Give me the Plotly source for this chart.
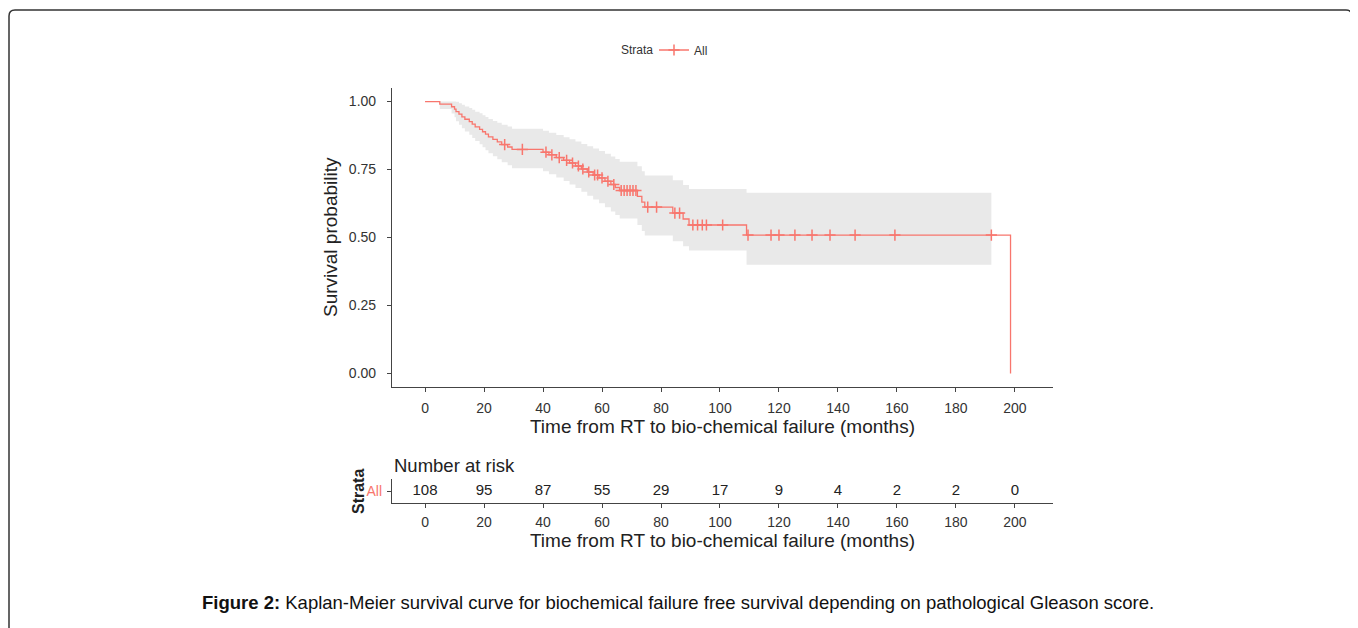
import numpy as np
import plotly.graph_objects as go

# ---------------- data ----------------
event_times = [0, 5, 9, 10, 10.5, 11.5, 12.5, 13.5, 15, 16, 17, 18.5, 19.5, 20.5, 21.5, 23, 24.5, 26,
               28, 29.5, 40, 42, 44.5, 47, 49, 51, 53, 55, 57, 59, 61, 63, 64.5, 66,
               72, 73.5, 74.5, 84, 87.5, 89.5, 109, 198.5]
surv = [1.0, 0.991, 0.981, 0.972, 0.963, 0.954, 0.944, 0.935, 0.926, 0.917, 0.907, 0.898, 0.889, 0.880,
        0.870, 0.861, 0.852, 0.842, 0.833, 0.824, 0.814, 0.804, 0.794, 0.784, 0.774, 0.763, 0.752,
        0.741, 0.730, 0.719, 0.707, 0.695, 0.684, 0.673, 0.651, 0.630, 0.612, 0.590, 0.568, 0.546,
        0.509, 0.0]
ci_upper = [1.0, 1.0, 1.0, 1.0, 0.999, 0.994, 0.988, 0.982, 0.976, 0.970, 0.963, 0.957, 0.950, 0.943,
            0.936, 0.929, 0.922, 0.915, 0.908, 0.900, 0.893, 0.885, 0.877, 0.869, 0.861, 0.853, 0.844,
            0.836, 0.827, 0.818, 0.808, 0.798, 0.789, 0.779, 0.762, 0.744, 0.728, 0.711, 0.693, 0.678,
            0.665]
ci_lower = [1.0, 0.973, 0.956, 0.942, 0.928, 0.915, 0.902, 0.890, 0.878, 0.866, 0.855, 0.843, 0.832,
            0.821, 0.810, 0.799, 0.788, 0.777, 0.766, 0.755, 0.744, 0.733, 0.721, 0.708, 0.695, 0.682,
            0.668, 0.654, 0.640, 0.626, 0.611, 0.596, 0.583, 0.570, 0.546, 0.524, 0.507, 0.486, 0.468,
            0.452, 0.400]
censor_times = [27, 33, 41, 43, 45.5, 48, 50, 52, 53.5, 55.5, 57.5, 58.5, 60, 62, 64, 66.5, 67.5,
                68.5, 69.5, 70.5, 71.5, 75.5, 78.5, 84.7, 86.3, 90.8, 92.4, 94, 95.4, 100.9,
                109.5, 117.3, 120, 125.4, 131.2, 137.3, 145.8, 159.3, 192]
risk_times = [0, 20, 40, 60, 80, 100, 120, 140, 160, 180, 200]
risk_counts = [108, 95, 87, 55, 29, 17, 9, 4, 2, 2, 0]
strata = ["All"]

RED = "#F8766D"
FONT = "Arial, Liberation Sans, sans-serif"
W, H = 1358, 628
OFF = 8  # default page body margin

def px_x(p):
    return (p - OFF) / W

def px_y(p):
    return 1 - (p - OFF) / H

# censor y positions from the step function
et = np.array(event_times)
sv = np.array(surv)
censor_surv = [float(sv[np.searchsorted(et, c, side="right") - 1]) for c in censor_times]

# band extends to last censoring time
band_t = event_times[:-1] + [censor_times[-1]]
band_up = ci_upper + [ci_upper[-1]]
band_lo = ci_lower + [ci_lower[-1]]

fig = go.Figure()

fig.add_trace(go.Scatter(x=band_t, y=band_lo, mode="lines", line=dict(width=0, shape="hv"),
                         showlegend=False, hoverinfo="skip"))
fig.add_trace(go.Scatter(x=band_t, y=band_up, mode="lines", line=dict(width=0, shape="hv"),
                         fill="tonexty", fillcolor="#E9E9E9", showlegend=False, hoverinfo="skip"))
fig.add_trace(go.Scatter(x=event_times, y=surv, mode="lines", line=dict(color=RED, width=1.3, shape="hv"),
                         showlegend=False))
fig.add_trace(go.Scatter(x=censor_times, y=censor_surv, mode="markers",
                         marker=dict(symbol="cross-thin", size=8, color=RED,
                                     line=dict(color=RED, width=1.5)),
                         showlegend=False))
# legend entry
fig.add_trace(go.Scatter(x=[None], y=[None], mode="lines+markers", name=strata[0],
                         line=dict(color=RED, width=1.3),
                         marker=dict(symbol="cross-thin", size=8, color=RED,
                                     line=dict(color=RED, width=1.5))))

# risk table
fig.add_trace(go.Scatter(x=risk_times, y=[strata[0]] * len(risk_times), mode="text",
                         text=[str(v) for v in risk_counts],
                         textfont=dict(family=FONT, size=15, color="#222"),
                         xaxis="x2", yaxis="y2", showlegend=False))

xr = [-11.2, 212.9]
axis_common = dict(showline=True, linecolor="#444", linewidth=1.2, ticks="outside", ticklen=4,
                   tickcolor="#444", showgrid=False, zeroline=False)
tick_font = dict(family=FONT, size=14, color="#333")
title_font = dict(family=FONT, size=19, color="#222")

fig.update_layout(
    width=W, height=H, margin=dict(l=0, r=0, t=0, b=0),
    paper_bgcolor="white", plot_bgcolor="white",
    font=dict(family=FONT),
    xaxis=dict(domain=[px_x(392), px_x(1053)], range=xr, tickvals=risk_times, anchor="y",
               tickfont=tick_font, ticklabelstandoff=4,
               title=dict(text="Time from RT to bio-chemical failure (months)",
                          font=title_font, standoff=4),
               **axis_common),
    yaxis=dict(domain=[px_y(387), px_y(88)], range=[-0.05, 1.05], tickvals=[0, 0.25, 0.5, 0.75, 1.0],
               tickformat=".2f", anchor="x", tickfont=tick_font, ticklabelstandoff=8,
               **axis_common),
    xaxis2=dict(domain=[px_x(392), px_x(1053)], range=xr, tickvals=risk_times, anchor="y2",
                tickfont=tick_font, ticklabelstandoff=2,
                title=dict(text="Time from RT to bio-chemical failure (months)",
                           font=title_font, standoff=4),
                **axis_common),
    yaxis2=dict(domain=[px_y(503), px_y(479)], type="category", range=[-0.6, 0.6], anchor="x2",
                tickfont=dict(family=FONT, size=14, color=RED), ticklabelstandoff=2,
                **axis_common),
    legend=dict(orientation="h", x=px_x(654), xanchor="left", y=px_y(50), yanchor="middle",
                font=dict(family=FONT, size=12, color="#333"), itemwidth=30,
                bgcolor="rgba(0,0,0,0)"),
    annotations=[
        dict(text="Strata", x=px_x(655), y=px_y(50), xref="paper", yref="paper",
             xanchor="right", yanchor="middle", showarrow=False,
             font=dict(family=FONT, size=12, color="#333")),
        dict(text="Survival probability", x=px_x(331), y=px_y(237), xref="paper", yref="paper",
             xanchor="center", yanchor="middle", textangle=-90, showarrow=False, font=title_font),
        dict(text="<b>Strata</b>", x=px_x(358), y=px_y(491), xref="paper", yref="paper",
             xanchor="center", yanchor="middle", textangle=-90, showarrow=False,
             font=dict(family=FONT, size=16, color="#222")),
        dict(text="Number at risk", x=px_x(392), y=px_y(465), xref="paper", yref="paper",
             xanchor="left", yanchor="middle", showarrow=False,
             font=dict(family=FONT, size=18.5, color="#222")),
        dict(text="<b>Figure 2:</b> Kaplan-Meier survival curve for biochemical failure free survival "
                  "depending on pathological Gleason score.",
             x=px_x(678), y=px_y(602), xref="paper", yref="paper", xanchor="center", yanchor="middle",
             showarrow=False, font=dict(family=FONT, size=18.5, color="#111")),
    ],
)

# rounded border frame
x0, x1, y0, y1, r = 9, 1352, 10, 680, 6
path = (f"M {px_x(x0)},{px_y(y1)} L {px_x(x0)},{px_y(y0 + r)} "
        f"Q {px_x(x0)},{px_y(y0)} {px_x(x0 + r)},{px_y(y0)} "
        f"L {px_x(x1 - r)},{px_y(y0)} Q {px_x(x1)},{px_y(y0)} {px_x(x1)},{px_y(y0 + r)} "
        f"L {px_x(x1)},{px_y(y1)}")
fig.add_shape(type="path", path=path, xref="paper", yref="paper",
              line=dict(color="#333", width=1.5))

fig.write_html("out.html")
